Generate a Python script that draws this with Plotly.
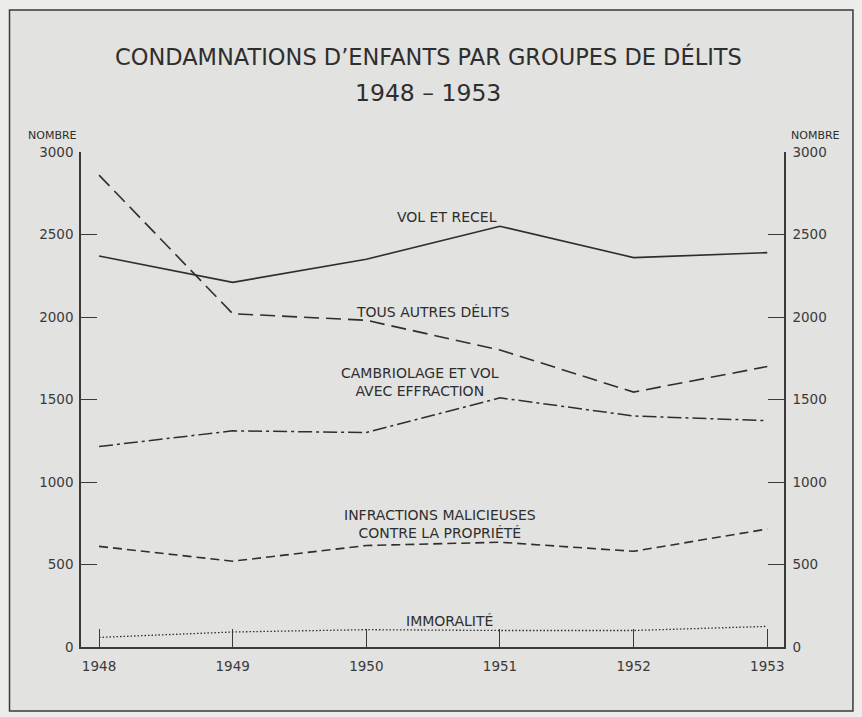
import plotly.graph_objects as go

years = [1948, 1949, 1950, 1951, 1952, 1953]
vol_et_recel = [2370, 2210, 2350, 2550, 2360, 2390]
tous_autres = [2860, 2020, 1980, 1800, 1545, 1700]
cambriolage = [1215, 1310, 1300, 1510, 1400, 1372]
infractions = [610, 520, 615, 635, 580, 715]
immoralite = [58, 91, 105, 100, 100, 125]

y_ticks = [0, 500, 1000, 1500, 2000, 2500, 3000]
y_ticklabels = ["0", "500", "1000", "1500", "2000", "2500", "3000"]
x_ticklabels = ["1948", "1949", "1950", "1951", "1952", "1953"]

series_labels = {
    "vol": ("VOL ET RECEL", 1950.60, 2606),
    "autres": ("TOUS AUTRES DÉLITS", 1950.50, 2028),
    "camb": ("CAMBRIOLAGE ET VOL<br>AVEC EFFRACTION", 1950.40, 1605),
    "infr": ("INFRACTIONS MALICIEUSES<br>CONTRE LA PROPRIÉTÉ", 1950.55, 747),
    "immo": ("IMMORALITÉ", 1950.62, 155),
}

INK = "#2e2e2e"
FONT = "DejaVu Sans"

fig = go.Figure()

def add_line(y, dash, width=1.5):
    fig.add_trace(go.Scatter(
        x=years, y=y, mode="lines",
        line=dict(color=INK, width=width, dash=dash),
        showlegend=False, hoverinfo="skip",
    ))

add_line(vol_et_recel, "solid", 1.6)
add_line(tous_autres, "15px,7px", 1.6)
add_line(cambriolage, "14px,4px,3px,4px", 1.5)
add_line(infractions, "9px,5px", 1.6)
add_line(immoralite, "1.5px,2px", 1.3)

# invisible companion on right axis so it is drawn
fig.add_trace(go.Scatter(x=years, y=vol_et_recel, yaxis="y2", mode="lines",
                         line=dict(width=0), opacity=0, showlegend=False,
                         hoverinfo="skip"))

for key, (txt, xx, yy) in series_labels.items():
    fig.add_annotation(x=xx, y=yy, xref="x", yref="y", text=txt,
                       showarrow=False, align="center",
                       xanchor="center", yanchor="middle",
                       font=dict(family=FONT, size=14, color=INK))

def paper_text(txt, x, y, size):
    fig.add_annotation(x=x, y=y, xref="paper", yref="paper", text=txt,
                       showarrow=False, xanchor="center", yanchor="middle",
                       font=dict(family=FONT, size=size, color=INK))

paper_text("CONDAMNATIONS D’ENFANTS PAR GROUPES DE DÉLITS", 0.4943, 1.1925, 22.5)
paper_text("1948 – 1953", 0.4936, 1.1186, 23.5)
paper_text("NOMBRE", -0.0405, 1.0329, 11)
paper_text("NOMBRE", 1.0441, 1.0343, 11)

# page frame
fig.add_shape(type="rect", xref="paper", yref="paper",
              x0=-0.1017, x1=1.0981, y0=-0.1293, y1=1.2869,
              line=dict(color="#3a3a3a", width=1.5),
              fillcolor="#e2e2e0", layer="below")

axis_common = dict(showgrid=False, zeroline=False, showline=True,
                   linecolor="#3a3a3a", linewidth=1.5,
                   ticks="inside", tickcolor="#3a3a3a", tickwidth=1.3,
                   tickfont=dict(family=FONT, size=13.5, color="#3a3a3a"))

fig.update_layout(
    width=862, height=717,
    margin=dict(l=81, r=78, t=152, b=70),
    paper_bgcolor="#ececea",
    plot_bgcolor="rgba(0,0,0,0)",
    xaxis=dict(range=[1947.865, 1953.125], tickmode="array",
               tickvals=years, ticktext=x_ticklabels, ticklen=18,
               ticklabelstandoff=6, **axis_common),
    yaxis=dict(range=[0, 3000], tickmode="array", tickvals=y_ticks,
               ticktext=y_ticklabels, ticklen=16, ticklabelstandoff=3,
               **axis_common),
    yaxis2=dict(range=[0, 3000], tickmode="array", tickvals=y_ticks,
                ticktext=y_ticklabels, ticklen=16, ticklabelstandoff=4,
                overlaying="y", side="right", **axis_common),
)

fig.write_html("out.html", config={"displayModeBar": False},
               post_script="document.body.style.margin='0';document.body.style.overflow='hidden';")
